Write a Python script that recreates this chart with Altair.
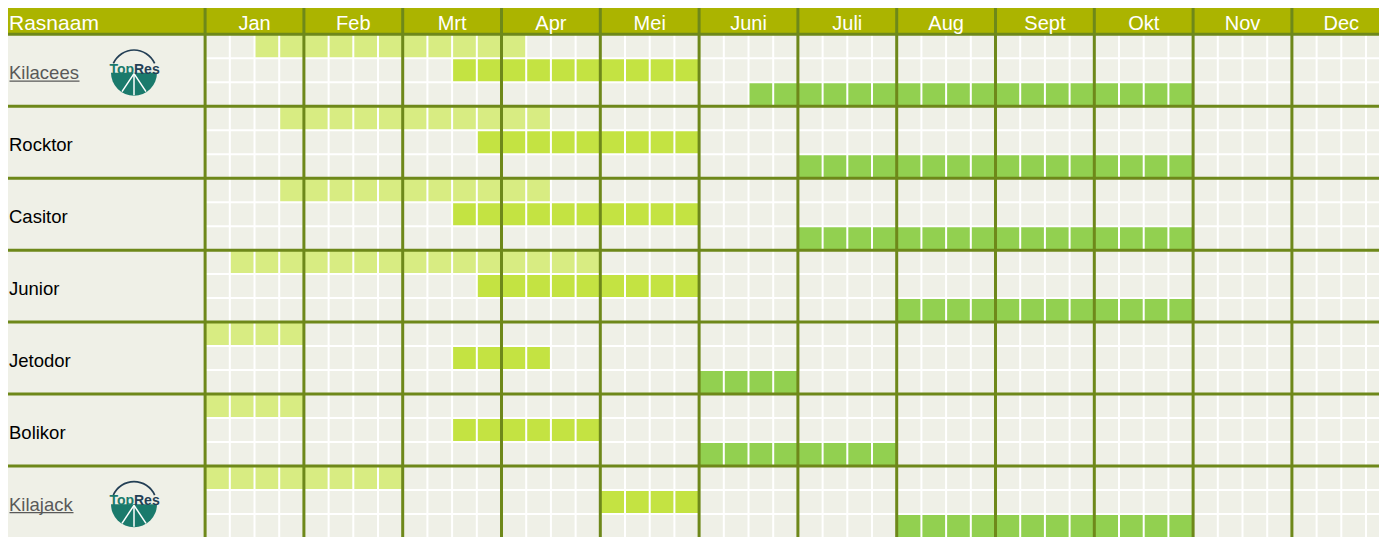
import math
import altair as alt
import pandas as pd

# ---------------- data ----------------
varieties = ["Kilacees", "Rocktor", "Casitor", "Junior", "Jetodor", "Bolikor", "Kilajack"]
months = ["Jan", "Feb", "Mrt", "Apr", "Mei", "Juni", "Juli", "Aug", "Sept", "Okt", "Nov", "Dec"]
header_label = "Rasnaam"
topres_varieties = ["Kilacees", "Kilajack"]

# week indices (0 = first week of Jan), end exclusive
phase1_start = [2, 3, 3, 1, 0, 0, 0]
phase1_end = [13, 14, 14, 16, 4, 4, 8]
phase2_start = [10, 11, 10, 11, 10, 10, 16]
phase2_end = [20, 20, 20, 20, 14, 16, 20]
phase3_start = [22, 24, 24, 28, 20, 20, 28]
phase3_end = [40, 40, 40, 40, 24, 28, 40]

# ---------------- layout / style ----------------
W, H = 1371, 529
UNIT_X, UNIT_Y = 24.70, 23.98      # px per week / per sub-row
WEEKS_PER_MONTH = 4
N_WEEKS = 48
NAME_COL = 7.98                    # name column width in week units
HEADER_H = 1.2                     # header height in row units
X_DOMAIN = [-NAME_COL, -NAME_COL + W / UNIT_X]
Y_TOP = -1.097
Y_DOMAIN = [Y_TOP, Y_TOP + H / UNIT_Y]
PX_X, PX_Y = UNIT_X, UNIT_Y
ROWS = 3 * len(varieties)

C_CELL = "#EFF0E7"
C_HEADER = "#ABB400"
C_THICK = "#6E881A"
C_P1 = "#D8EC82"
C_P2 = "#C4E342"
C_P3 = "#92D050"
C_TEAL = "#1A7A6C"
C_NAVY = "#233F55"
FONT = "Liberation Sans"

xs = alt.Scale(domain=X_DOMAIN, nice=False, zero=False)
ys = alt.Scale(domain=Y_DOMAIN, nice=False, zero=False, reverse=True)


def enc_x(f="x"):
    return alt.X(f"{f}:Q", scale=xs, axis=None)


def enc_y(f="y"):
    return alt.Y(f"{f}:Q", scale=ys, axis=None)


# ---------------- tables ----------------
cells = []
phases = [(phase1_start, phase1_end, "p1"), (phase2_start, phase2_end, "p2"), (phase3_start, phase3_end, "p3")]
for i, v in enumerate(varieties):
    for p, (st, en, name) in enumerate(phases):
        for w in range(st[i], en[i]):
            cells.append({"x": w, "x2": w + 1, "y": 3 * i + p, "y2": 3 * i + p + 1, "phase": name})
cells = pd.DataFrame(cells)

bg = pd.DataFrame([{"x": -NAME_COL, "x2": N_WEEKS, "y": 0, "y2": ROWS}])
hdr = pd.DataFrame([{"x": -NAME_COL, "x2": N_WEEKS, "y": -HEADER_H, "y2": 0}])

thin_v = pd.DataFrame([{"x": w, "y": 0, "y2": ROWS} for w in range(1, N_WEEKS) if w % WEEKS_PER_MONTH])
thin_h = pd.DataFrame([{"y": r, "x": 0, "x2": N_WEEKS} for r in range(1, ROWS) if r % 3])
thick_v = pd.DataFrame([{"x": w, "y": -HEADER_H, "y2": ROWS} for w in range(0, N_WEEKS + 1, WEEKS_PER_MONTH)])
thick_h = pd.DataFrame([{"y": r, "x": -NAME_COL, "x2": N_WEEKS} for r in range(0, ROWS, 3)])

month_txt = pd.DataFrame([{"x": WEEKS_PER_MONTH * m + 2, "y": -0.17, "t": t} for m, t in enumerate(months)])
head_txt = pd.DataFrame([{"x": -NAME_COL, "y": -0.17, "t": header_label}])

names = pd.DataFrame([
    {"x": -NAME_COL, "y": 3 * i + 1.86, "t": v,
     "c": "#595959" if v in topres_varieties else "#000000"}
    for i, v in enumerate(varieties)
])

underline_px = {"Kilacees": 70, "Kilajack": 64}
ul = pd.DataFrame([
    {"x": -NAME_COL + 1.5 / PX_X, "x2": -NAME_COL + (1.5 + underline_px[v]) / PX_X,
     "y": varieties.index(v) * 3 + 1.95}
    for v in topres_varieties
])

LOGO_X = -NAME_COL + 126 / PX_X
logos = pd.DataFrame([{"x": LOGO_X, "y": varieties.index(v) * 3 + 1.6} for v in topres_varieties])

peace = []
for _, r in logos.iterrows():
    for dx, dy in [(0, 22.5), (-12, 19), (12, 19)]:
        peace.append({"x": r.x, "y": r.y + 1.0 / PX_Y, "x2": r.x + dx / PX_X, "y2": r.y + dy / PX_Y})
peace = pd.DataFrame(peace)

# ---------------- layers ----------------
L = []
L.append(alt.Chart(bg).mark_rect(color=C_CELL, clip=True).encode(
    x=enc_x(), x2="x2:Q", y=enc_y(), y2="y2:Q"))
L.append(alt.Chart(cells).mark_rect(clip=True).encode(
    x=enc_x(), x2="x2:Q", y=enc_y(), y2="y2:Q",
    color=alt.Color("phase:N", scale=alt.Scale(domain=["p1", "p2", "p3"], range=[C_P1, C_P2, C_P3]), legend=None)))
L.append(alt.Chart(thin_v).mark_rule(color="white", strokeWidth=2, clip=True).encode(
    x=enc_x(), y=enc_y(), y2="y2:Q"))
L.append(alt.Chart(thin_h).mark_rule(color="white", strokeWidth=2, clip=True).encode(
    x=enc_x(), x2="x2:Q", y=enc_y()))
L.append(alt.Chart(hdr).mark_rect(color=C_HEADER, clip=True).encode(
    x=enc_x(), x2="x2:Q", y=enc_y(), y2="y2:Q"))
L.append(alt.Chart(thick_v).mark_rule(color=C_THICK, strokeWidth=3, clip=True).encode(
    x=enc_x(), y=enc_y(), y2="y2:Q"))
L.append(alt.Chart(thick_h).mark_rule(color=C_THICK, strokeWidth=3, clip=True).encode(
    x=enc_x(), x2="x2:Q", y=enc_y()))
L.append(alt.Chart(month_txt).mark_text(color="white", font=FONT, fontSize=20, baseline="alphabetic",
                                         align="center", clip=True).encode(x=enc_x(), y=enc_y(), text="t:N"))
L.append(alt.Chart(head_txt).mark_text(color="white", font=FONT, fontSize=21, baseline="alphabetic",
                                        align="left", dx=1).encode(x=enc_x(), y=enc_y(), text="t:N"))
L.append(alt.Chart(names).mark_text(font=FONT, fontSize=18.5, baseline="alphabetic", align="left", dx=1).encode(
    x=enc_x(), y=enc_y(), text="t:N", color=alt.Color("c:N", scale=None)))
L.append(alt.Chart(ul).mark_rule(color="#595959", strokeWidth=1.2).encode(
    x=enc_x(), x2="x2:Q", y=enc_y()))
# TopRes logos
L.append(alt.Chart(logos).mark_arc(radius=23.5, radius2=21.8, theta=2 * math.pi - 1.15,
                                   theta2=2 * math.pi + 1.15, color=C_NAVY).encode(
    x=enc_x(), y=enc_y()))
L.append(alt.Chart(logos).mark_arc(radius=23, theta=math.pi / 2, theta2=3 * math.pi / 2, color=C_TEAL).encode(
    x=enc_x(), y=enc_y()))
L.append(alt.Chart(peace).mark_rule(color="white", strokeWidth=1.5).encode(
    x=enc_x(), x2="x2:Q", y=enc_y(), y2="y2:Q"))
L.append(alt.Chart(logos).transform_calculate(t="'Top'").mark_text(
    font=FONT, fontWeight="bold", fontSize=14, color=C_TEAL, align="right", baseline="alphabetic",
    dy=1).encode(x=enc_x(), y=enc_y(), text="t:N"))
L.append(alt.Chart(logos).transform_calculate(t="'Res'").mark_text(
    font=FONT, fontWeight="bold", fontSize=14, color=C_NAVY, align="left", baseline="alphabetic",
    dy=1).encode(x=enc_x(), y=enc_y(), text="t:N"))

chart = alt.layer(*L).properties(
    width=W, height=H, padding=0, autosize=alt.AutoSizeParams(type="none")
).configure_view(stroke=None)

chart.save("out.html", embed_options={"renderer": "svg", "actions": False})
